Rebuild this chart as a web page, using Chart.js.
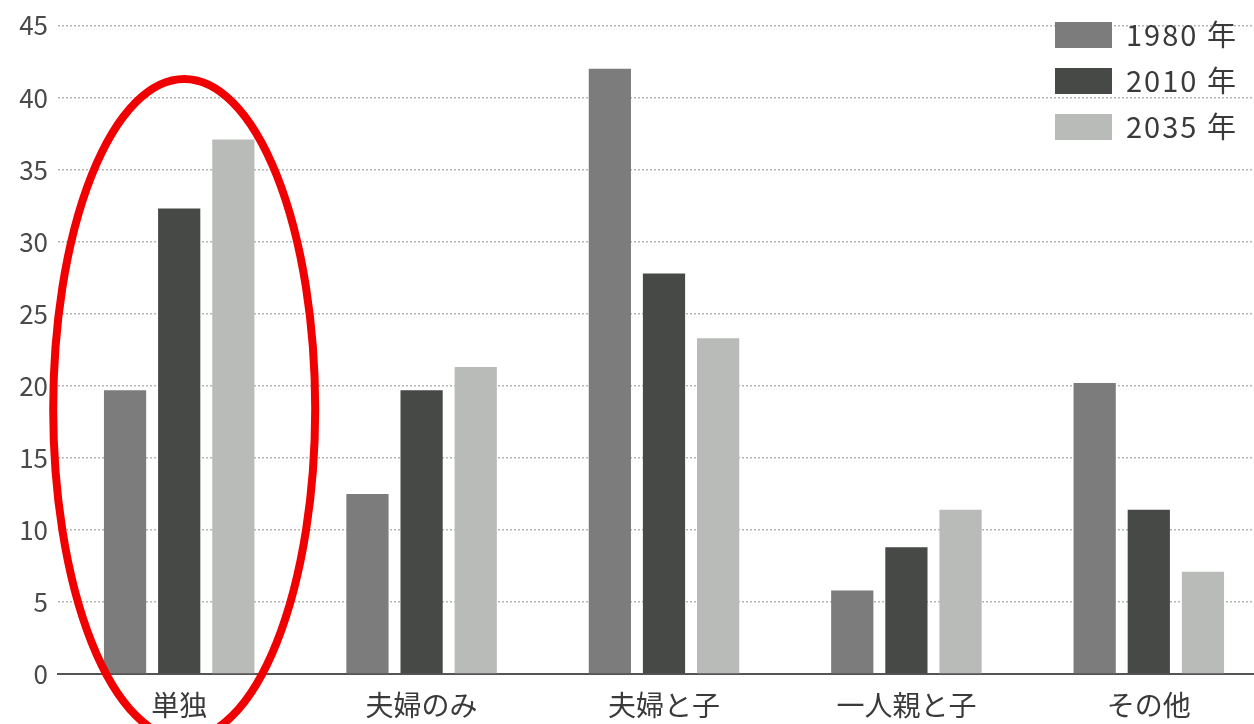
<!DOCTYPE html>
<html>
<head>
<meta charset="utf-8">
<script src="https://cdn.jsdelivr.net/npm/chart.js@4"></script>
<style>
  html, body { margin: 0; padding: 0; background: #fff; overflow: hidden; }
  #wrap { width: 1270px; height: 724px; }
</style>
</head>
<body>
<div id="wrap"><canvas id="myChart" width="1270" height="724"></canvas></div>
<script>
// household types (%)
var categories = ['単独', '夫婦のみ', '夫婦と子', '一人親と子', 'その他'];
var years = ['1980 年', '2010 年', '2035 年'];
var v1980 = [19.7, 12.5, 42.0, 5.8, 20.2];
var v2010 = [32.3, 19.7, 27.8, 8.8, 11.4];
var v2035 = [37.1, 21.3, 23.3, 11.4, 7.1];
var yTicks = [0, 5, 10, 15, 20, 25, 30, 35, 40, 45];
var colors = ['#7b7c7b', '#464946', '#b9bbb9'];

var font = "'Noto Sans CJK JP', 'Noto Sans', sans-serif";

// red ring round the first group + legend at top right
var extras = {
  id: 'extras',
  afterDraw: function (chart) {
    var ctx = chart.ctx;
    var x = chart.scales.x, y = chart.scales.y;
    ctx.save();
    ctx.strokeStyle = '#f00000';
    ctx.lineWidth = 8;
    ctx.beginPath();
    ctx.ellipse(x.getPixelForValue(0) + 5, y.getPixelForValue(18.4), 131, 330, 0, 0, Math.PI * 2);
    ctx.stroke();

    ctx.font = '29px ' + font;
    ctx.letterSpacing = '2px';
    ctx.textBaseline = 'middle';
    chart.data.datasets.forEach(function (ds, i) {
      var top = 22 + i * 46;
      ctx.fillStyle = ds.backgroundColor;
      ctx.fillRect(1055, top, 57, 26);
      ctx.fillStyle = '#3a3a3a';
      ctx.fillText(ds.label, 1126, top + 13);
    });
    ctx.restore();
  }
};

window.onload = function () {
  const ctx = document.getElementById('myChart');
  new Chart(ctx, {
    type: 'bar',
    data: {
      labels: categories,
      datasets: [
        { label: years[0], data: v1980, backgroundColor: colors[0] },
        { label: years[1], data: v2010, backgroundColor: colors[1] },
        { label: years[2], data: v2035, backgroundColor: colors[2] }
      ]
    },
    options: {
      responsive: false,
      animation: false,
      layout: { padding: { top: 10, right: 0, bottom: 0, left: 0 } },
      categoryPercentage: 0.67,
      barPercentage: 0.78,
      plugins: { legend: { display: false }, tooltip: { enabled: false } },
      scales: {
        x: {
          afterFit: function (axis) { axis.height = 50; },
          grid: { display: false, drawTicks: false },
          border: { color: '#555', width: 2 },
          ticks: { color: '#3a3a3a', font: { family: font, size: 28 }, padding: 15 }
        },
        y: {
          min: 0,
          max: 45,
          afterBuildTicks: function (axis) {
            axis.ticks = yTicks.map(function (v) { return { value: v }; });
          },
          afterFit: function (axis) { axis.width = 58; },
          grid: {
            color: function (c) { return c.tick.value === 0 ? 'rgba(0,0,0,0)' : '#b5b5b5'; },
            lineWidth: 1.5,
            drawTicks: false
          },
          border: { display: false, dash: [2, 2] },
          ticks: { color: '#4a4a4a', font: { family: font, size: 26 }, padding: 10 }
        }
      }
    },
    plugins: [extras]
  });
};
</script>
</body>
</html>
